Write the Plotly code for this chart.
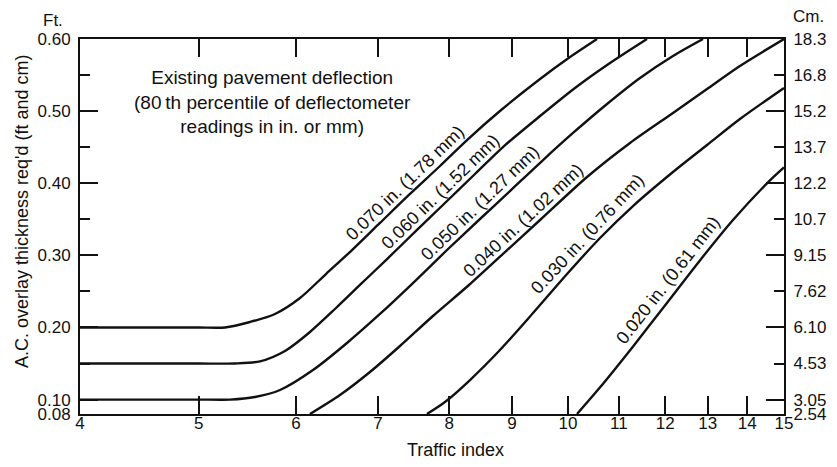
import math
import plotly.graph_objects as go

# Traffic index (x) vs. required A.C. overlay thickness in feet (y), one curve per deflection
ti_070 = [4.0, 4.6, 5.0, 5.252, 5.504, 5.768, 6.046, 6.348, 6.666, 7.025, 7.432, 7.863, 8.272, 8.800, 9.488, 10.038, 10.560]
ft_070 = [0.20, 0.20, 0.20, 0.20, 0.2076, 0.2187, 0.2409, 0.2741, 0.3074, 0.3449, 0.3851, 0.4239, 0.4599, 0.5002, 0.5445, 0.5750, 0.60]

ti_060 = [4.0, 4.6, 5.0, 5.351, 5.608, 5.878, 6.160, 6.456, 6.766, 7.105, 7.502, 7.937, 8.397, 8.850, 9.488, 10.132, 10.820, 11.598]
ft_060 = [0.15, 0.15, 0.15, 0.15, 0.153, 0.1674, 0.1937, 0.2256, 0.2589, 0.2935, 0.3324, 0.3726, 0.4128, 0.4502, 0.4932, 0.5321, 0.5667, 0.60]

ti_050 = [4.0, 4.6, 5.0, 5.301, 5.556, 5.823, 6.195, 6.603, 7.025, 7.474, 7.967, 8.476, 8.967, 9.542, 10.094, 10.760, 11.447, 12.178, 12.884]
ft_050 = [0.10, 0.10, 0.10, 0.10, 0.1036, 0.1133, 0.1410, 0.1785, 0.2187, 0.2616, 0.3074, 0.3504, 0.3892, 0.4322, 0.4697, 0.5099, 0.5459, 0.5764, 0.60]

ti_040 = [6.160, 6.517, 6.894, 7.294, 7.760, 8.303, 8.884, 9.488, 10.363, 11.234, 12.178, 12.981, 13.809, 15.0]
ft_040 = [0.08, 0.1063, 0.1382, 0.1743, 0.2159, 0.2589, 0.3046, 0.3490, 0.4086, 0.4558, 0.4974, 0.5307, 0.5626, 0.60]

ti_030 = [7.673, 7.937, 8.319, 8.800, 9.364, 9.981, 10.619, 11.297, 12.178, 12.981, 13.809, 15.0]
ft_030 = [0.08, 0.0966, 0.1271, 0.1687, 0.2200, 0.2741, 0.3241, 0.3684, 0.4156, 0.4530, 0.4891, 0.5321]

ti_020 = [10.17, 10.62, 11.29, 12.04, 12.81, 13.63, 14.61, 15.0]
ft_020 = [0.08, 0.117, 0.173, 0.234, 0.293, 0.349, 0.404, 0.422]

curve_labels = [
    "0.070 in. (1.78 mm)",
    "0.060 in. (1.52 mm)",
    "0.050 in. (1.27 mm)",
    "0.040 in. (1.02 mm)",
    "0.030 in. (0.76 mm)",
    "0.020 in. (0.61 mm)",
]

# Axis ticks
x_ticks = [4, 5, 6, 7, 8, 9, 10, 11, 12, 13, 14, 15]
ft_major = [0.08, 0.10, 0.20, 0.30, 0.40, 0.50, 0.60]
ft_major_text = ["0.08", "0.10", "0.20", "0.30", "0.40", "0.50", "0.60"]
ft_minor = [0.15, 0.25, 0.35, 0.45, 0.55]

cm_long = [0.10, 0.20, 0.30, 0.40, 0.50]
cm_long_text = ["3.05", "6.10", "9.15", "12.2", "15.2"]
cm_short = [0.08, 0.15, 0.25, 0.35, 0.45, 0.55, 0.60]
cm_short_text = ["2.54", "4.53", "7.62", "10.7", "13.7", "16.8", "18.3"]

# Label anchor points (traffic index, ft) and rotation for each curve label
label_ti = [7.363, 7.863, 8.476, 9.197, 10.363, 12.065]
label_ft = [0.4003, 0.3885, 0.3726, 0.3490, 0.3303, 0.2658]
label_angle = [-44, -44, -44, -43, -47, -52]

W, H = 837, 467
ML, MR, MT, MB = 80, 53, 39, 53
FONT = "Liberation Sans, Arial, sans-serif"
INK = "#111111"


def px(xp, yp):
    """Pixel position on the page -> paper coordinates."""
    pw = W - ML - MR
    ph = H - MT - MB
    return (xp - ML) / pw, (H - MB - yp) / ph


fig = go.Figure()

series = [
    (ti_070, ft_070), (ti_060, ft_060), (ti_050, ft_050),
    (ti_040, ft_040), (ti_030, ft_030), (ti_020, ft_020),
]
for (xs, ys), name in zip(series, curve_labels):
    fig.add_trace(go.Scatter(
        x=xs, y=ys, mode="lines", name=name,
        line=dict(color=INK, width=2.4, shape="spline", smoothing=0.8),
        showlegend=False, hoverinfo="skip",
    ))

# invisible traces so the right-hand cm axes get drawn
for ax in ("y2", "y3"):
    fig.add_trace(go.Scatter(
        x=[4, 15], y=[0.08, 0.60], yaxis=ax, mode="markers",
        marker=dict(opacity=0), showlegend=False, hoverinfo="skip",
    ))

common_y = dict(
    range=[0.08, 0.60], showgrid=False, zeroline=False, fixedrange=True,
    showline=True, linecolor=INK, linewidth=2,
    ticks="inside", tickcolor=INK, tickwidth=1.5,
    tickfont=dict(family=FONT, size=17, color=INK),
    tickmode="array",
)

fig.update_layout(
    width=W, height=H,
    margin=dict(l=ML, r=MR, t=MT, b=MB, pad=0),
    paper_bgcolor="white", plot_bgcolor="white",
    font=dict(family=FONT, size=17, color=INK),
    xaxis=dict(
        type="log", range=[math.log10(4), math.log10(15)],
        tickmode="array", tickvals=x_ticks, ticktext=[str(v) for v in x_ticks],
        ticks="inside", ticklen=18, tickwidth=1.5, tickcolor=INK,
        showline=True, linecolor=INK, linewidth=2, mirror="ticks",
        showgrid=False, zeroline=False,
        tickfont=dict(family=FONT, size=17, color=INK),
        ticklabelstandoff=-7,
    ),
    yaxis=dict(
        **common_y,
        tickvals=ft_major, ticktext=ft_major_text, ticklen=18,
        minor=dict(tickvals=ft_minor, ticklen=10, ticks="inside",
                   tickcolor=INK, tickwidth=1.5),
        ticklabelstandoff=4,
    ),
    yaxis2=dict(
        **common_y, overlaying="y", side="right", anchor="x",
        tickvals=cm_long, ticktext=cm_long_text, ticklen=18,
        ticklabelstandoff=4,
    ),
    yaxis3=dict(
        **common_y, overlaying="y", side="right", anchor="x",
        tickvals=cm_short, ticktext=cm_short_text, ticklen=10,
        ticklabelstandoff=4,
    ),
)

annotations = []
for text, xv, yv, ang in zip(curve_labels, label_ti, label_ft, label_angle):
    annotations.append(dict(
        x=math.log10(xv), y=yv, xref="x", yref="y", text=text,
        textangle=ang, showarrow=False,
        font=dict(family=FONT, size=18, color=INK),
        xanchor="center", yanchor="middle",
    ))


def page_text(xp, yp, text, size, angle=0):
    ax_, ay_ = px(xp, yp)
    return dict(x=ax_, y=ay_, xref="paper", yref="paper", text=text,
                showarrow=False, textangle=angle, align="center",
                xanchor="center", yanchor="middle",
                font=dict(family=FONT, size=size, color=INK))


annotations.append(page_text(
    272, 102,
    "Existing pavement deflection<br>(80\u2009th percentile of deflectometer<br>readings in in. or mm)",
    19))
annotations.append(page_text(53, 20, "Ft.", 17))
annotations.append(page_text(808, 16, "Cm.", 17))
annotations.append(page_text(455, 450, "Traffic index", 18))
annotations.append(page_text(22, 211, "A.C. overlay thickness req'd (ft and cm)", 18, -90))

fig.update_layout(annotations=annotations)

fig.write_html("out.html")
